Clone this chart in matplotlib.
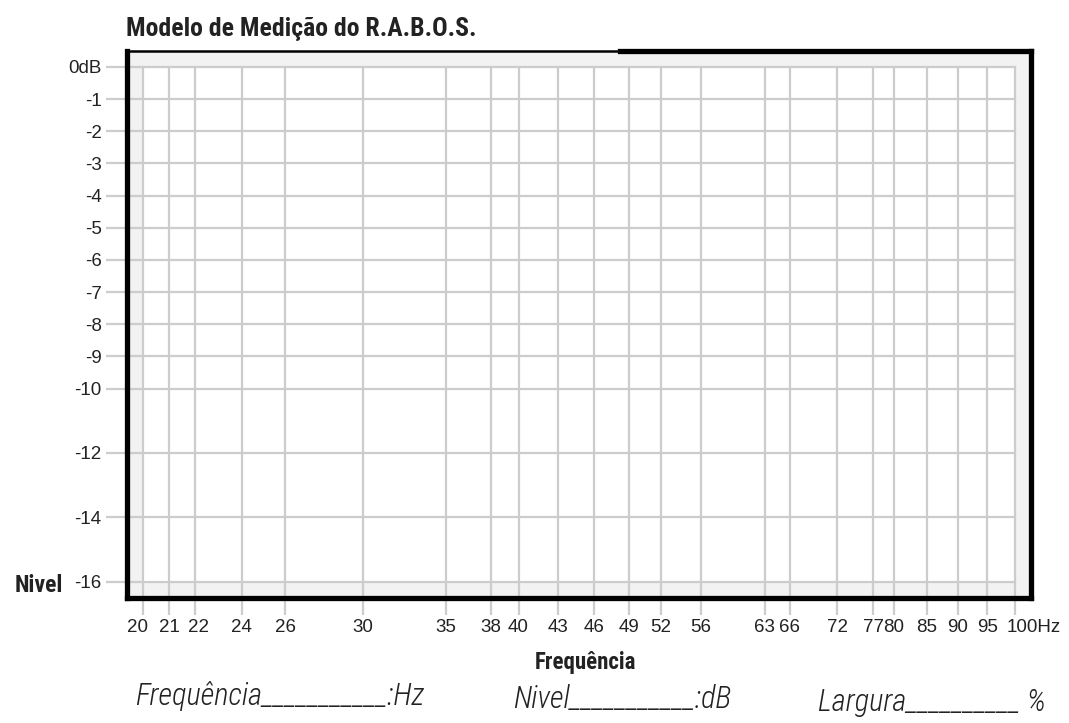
"""
Modelo de Medição do R.A.B.O.S. - blank measuring grid
"""

import matplotlib
matplotlib.use("Agg")
import matplotlib.pyplot as plt
import matplotlib.transforms as mtransforms
from matplotlib.patches import Rectangle
from matplotlib.lines import Line2D

freqs = [20, 21, 22, 24, 26, 30, 35, 38, 40, 43, 46, 49, 52, 56,
         63, 66, 72, 77, 80, 85, 90, 95, 100]
freq_labels = [str(f) for f in freqs[:-1]] + ["100Hz"]
levels = [0, -1, -2, -3, -4, -5, -6, -7, -8, -9, -10, -12, -14, -16]
level_labels = ["0dB"] + [str(v) for v in levels[1:]]

grid_col = "#cccccc"
text_col = "#222222"
cond = ["Roboto Condensed", "DejaVu Sans"]

fig = plt.figure(figsize=(10.69, 7.23), dpi=100)
ax = fig.add_axes([0.11834, 0.17289, 0.84612, 0.75657])
ax.set_xscale("log")
ax.set_xlim(19.40, 103.0)
ax.set_ylim(-16.513, 0.4975)
ax.set_facecolor("#f2f2f2")

# white field inside the grey margin
ax.add_patch(Rectangle((freqs[0], levels[-1]), freqs[-1] - freqs[0],
                       levels[0] - levels[-1], facecolor="white",
                       edgecolor="none", zorder=0.5))

# grid lines run out to the left / bottom edge and stop at 100Hz / 0dB
x0 = ax.get_xlim()[0]
y0 = ax.get_ylim()[0]
for v in levels:
    ax.plot([x0, freqs[-1]], [v, v], color=grid_col, lw=1.6, zorder=1)
for f in freqs:
    ax.plot([f, f], [y0, levels[0]], color=grid_col, lw=1.6, zorder=1)

ax.set_xticks(freqs)
ax.set_xticklabels(freq_labels)
ax.xaxis.set_minor_locator(matplotlib.ticker.NullLocator())
ax.set_yticks(levels)
ax.set_yticklabels(level_labels)
ax.tick_params(axis="both", width=1.6, color=grid_col, labelsize=13.5,
               labelcolor=text_col, pad=3)
ax.tick_params(axis="y", length=15)
ax.tick_params(axis="x", length=12)
for lab in ax.get_xticklabels() + ax.get_yticklabels():
    lab.set_family("Liberation Sans")

# small nudges on crowded x labels (pixels)
xlabs = ax.get_xticklabels()
nudge = {0: -6, 2: 4}
for i, dx in nudge.items():
    xlabs[i].set_transform(xlabs[i].get_transform() +
                           mtransforms.ScaledTranslation(dx / 100, 0, fig.dpi_scale_trans))
xlabs[-1].set_ha("left")
xlabs[-1].set_transform(xlabs[-1].get_transform() +
                        mtransforms.ScaledTranslation(-8 / 100, 0, fig.dpi_scale_trans))

for side in ["left", "right", "bottom"]:
    ax.spines[side].set_linewidth(3.8)
    ax.spines[side].set_color("black")
    ax.spines[side].set_zorder(5)
ax.spines["top"].set_visible(False)

# top border: thin on the left part, thick on the right part
ax.add_line(Line2D([0, 0.546], [1.0, 1.0], transform=ax.transAxes,
                   color="black", lw=1.8, clip_on=False, zorder=5))
ax.add_line(Line2D([0.546, 1.0], [1.0, 1.0], transform=ax.transAxes,
                   color="black", lw=3.8, clip_on=False, zorder=5))

fig.text(0.1178, 0.950, "Modelo de Medição do R.A.B.O.S.", fontsize=18.5,
         fontweight="bold", color=text_col, ha="left", va="baseline", family=cond)
fig.text(0.014, 0.181, "Nivel", fontsize=17, fontweight="bold",
         color=text_col, ha="left", va="baseline", family=cond)
fig.text(0.548, 0.0747, "Frequência", fontsize=16.5, fontweight="bold",
         color=text_col, ha="center", va="baseline", family=cond)

foot = dict(fontsize=22, style="italic", fontweight="light", color=text_col,
            va="baseline", ha="left", family=cond)
fig.text(0.1263, 0.025, "Frequência___________:Hz", **foot)
fig.text(0.4799, 0.021, "Nivel___________:dB", **foot)
fig.text(0.7652, 0.016, "Largura__________ %", **foot)

fig.savefig("out.png", dpi=100)
